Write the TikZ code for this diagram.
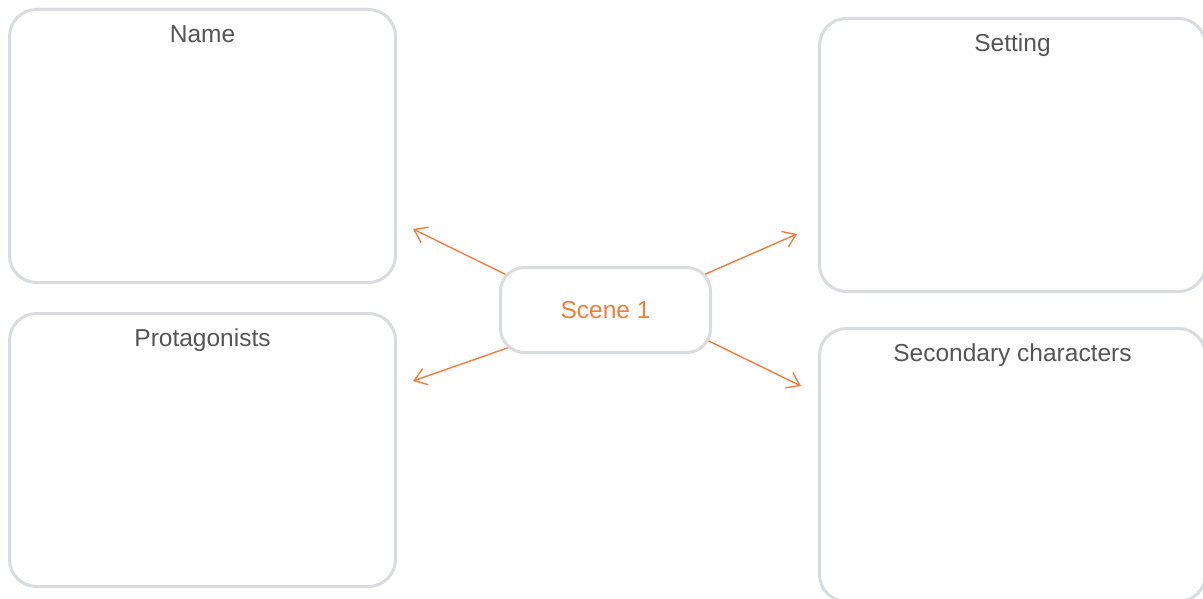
\documentclass[tikz,border=0pt]{standalone}
\usepackage{fontspec}
\setmainfont{Liberation Sans}
\usetikzlibrary{arrows.meta,backgrounds}
\definecolor{boxgray}{RGB}{216,219,223}
\definecolor{textgray}{RGB}{85,85,85}
\definecolor{sceneorange}{RGB}{242,125,60}
\tikzset{
  infobox/.style={draw=boxgray,line width=3pt,rounded corners=27pt,
    minimum width=386pt,minimum height=273pt,inner sep=0pt},
  boxtitle/.style={anchor=base,text=textgray,font=\fontsize{24.5}{29}\selectfont},
  scenebox/.style={draw=boxgray,line width=3pt,rounded corners=24pt,fill=white,
    minimum width=210pt,minimum height=85pt,text=sceneorange,
    font=\fontsize{24.5}{29}\selectfont},
  spoke/.style={draw=sceneorange,line width=1.4pt,shorten <=-30pt,
    -{Straight Barb[length=12pt,width=17pt,line width=1.4pt]}}
}
\begin{document}
\begin{tikzpicture}[x=1pt,y=-1pt]
  \useasboundingbox (0,0) rectangle (1203,599);

  \node[infobox] (name) at (202.5,146) {};
  \node[infobox] (protagonists) at (202.5,450) {};
  \node[infobox] (setting) at (1012.5,155) {};
  \node[infobox] (secondary) at (1012.5,465) {};

  \node[boxtitle] (nametitle) at ([yshift=-34.5pt]name.north) {Name};
  \node[boxtitle] (protagoniststitle) at ([yshift=-34.5pt]protagonists.north) {Protagonists};
  \node[boxtitle] (settingtitle) at ([yshift=-34.5pt]setting.north) {Setting};
  \node[boxtitle] (secondarytitle) at ([yshift=-34.5pt]secondary.north) {Secondary characters};

  \node[scenebox] (scene) at (605.5,310) {Scene 1};

  % arrow tips stop short of the boxes
  \coordinate (nametip) at (413,229);
  \coordinate (settingtip) at (797,234);
  \coordinate (protagoniststip) at (413,381);
  \coordinate (secondarytip) at (801,386);

  \begin{scope}[on background layer]
    \draw[spoke] (scene.160) -- (nametip);
    \draw[spoke] (scene.20) -- (settingtip);
    \draw[spoke] (scene.201) -- (protagoniststip);
    \draw[spoke] (scene.343) -- (secondarytip);
  \end{scope}
\end{tikzpicture}
\end{document}
